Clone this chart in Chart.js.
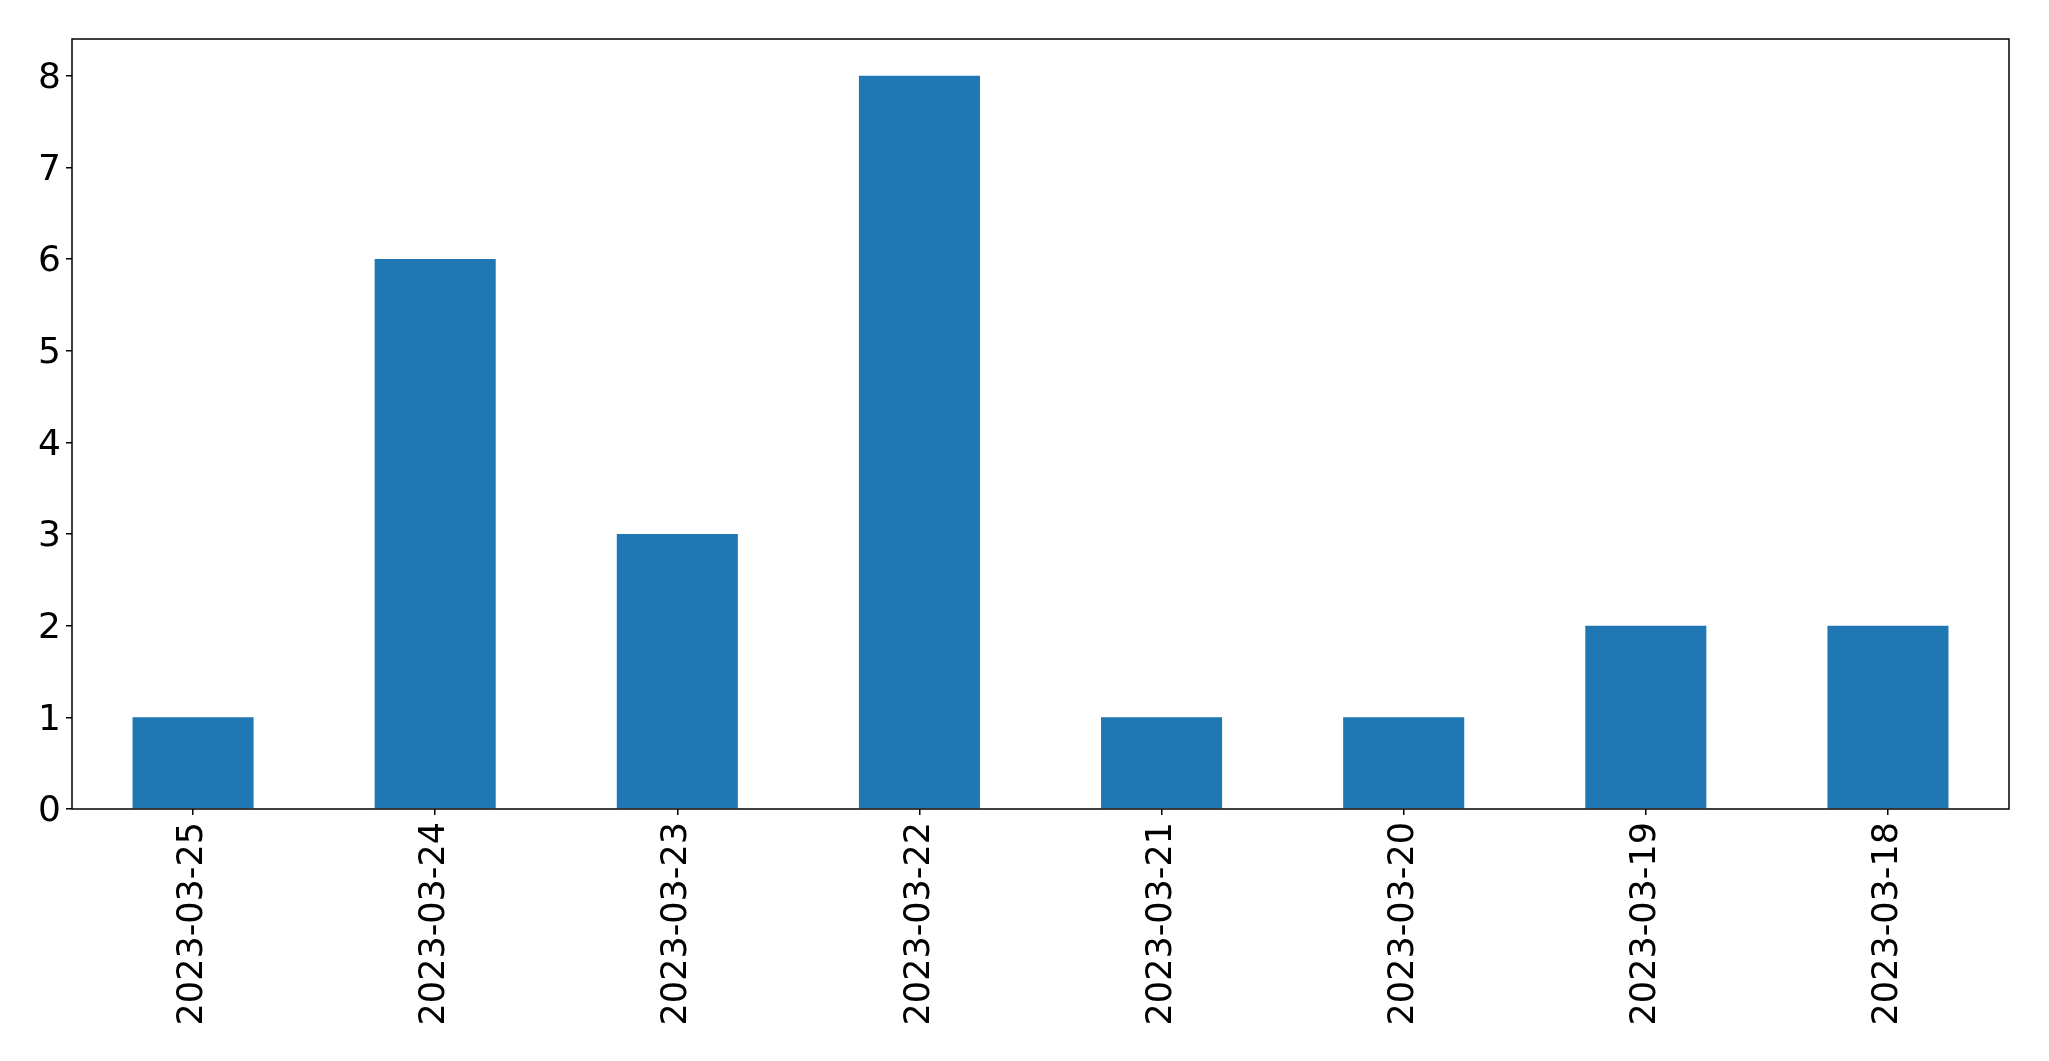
<!DOCTYPE html>
<html>
<head>
<meta charset="utf-8">
<script src="https://cdn.jsdelivr.net/npm/chart.js@4"></script>
<style>
html,body{margin:0;padding:0;background:#fff;}
canvas{display:block;}
</style>
</head>
<body>
<canvas id="c" width="2049" height="1061"></canvas>
<script>
const categories = ["2023-03-25","2023-03-24","2023-03-23","2023-03-22","2023-03-21","2023-03-20","2023-03-19","2023-03-18"];
const values = [1, 6, 3, 8, 1, 1, 2, 2];
const yTicks = [0, 1, 2, 3, 4, 5, 6, 7, 8];

const boxPlugin = {
  id: 'box',
  afterDraw(chart) {
    const a = chart.chartArea, ctx = chart.ctx;
    ctx.save();
    ctx.strokeStyle = '#000';
    ctx.lineWidth = 1.5;
    ctx.strokeRect(a.left, a.top, a.right - a.left, a.bottom - a.top);
    ctx.restore();
  }
};

new Chart(document.getElementById('c'), {
  type: 'bar',
  data: {
    labels: categories,
    datasets: [{
      data: values,
      backgroundColor: '#1f77b4',
      borderWidth: 0,
      barPercentage: 0.5,
      categoryPercentage: 1.0
    }]
  },
  options: {
    responsive: false,
    animation: false,
    devicePixelRatio: 1,
    layout: { padding: { top: 39, right: 40, left: 0, bottom: 0 } },
    plugins: { legend: { display: false }, tooltip: { enabled: false } },
    scales: {
      x: {
        offset: true,
        grid: { display: true, drawOnChartArea: false, offset: false, color: '#000', lineWidth: 1.5, tickLength: 6 },
        border: { display: false },
        ticks: {
          color: '#000',
          font: { family: 'DejaVu Sans', size: 35 },
          minRotation: 90, maxRotation: 90,
          padding: 7,
          autoSkip: false
        },
        afterFit(axis) { axis.height = 1061 - 809; }
      },
      y: {
        min: 0, max: 8.4,
        grid: { display: true, drawOnChartArea: false, color: '#000', lineWidth: 1.5, tickLength: 6 },
        border: { display: false },
        ticks: {
          color: '#000',
          font: { family: 'DejaVu Sans', size: 36 },
          stepSize: 1,
          padding: 5,
          labelOffset: 3
        },
        afterBuildTicks(axis) {
          axis.ticks = yTicks.map(v => ({ value: v }));
        },
        afterFit(axis) { axis.width = 72; }
      }
    }
  },
  plugins: [boxPlugin]
});
</script>
</body>
</html>
